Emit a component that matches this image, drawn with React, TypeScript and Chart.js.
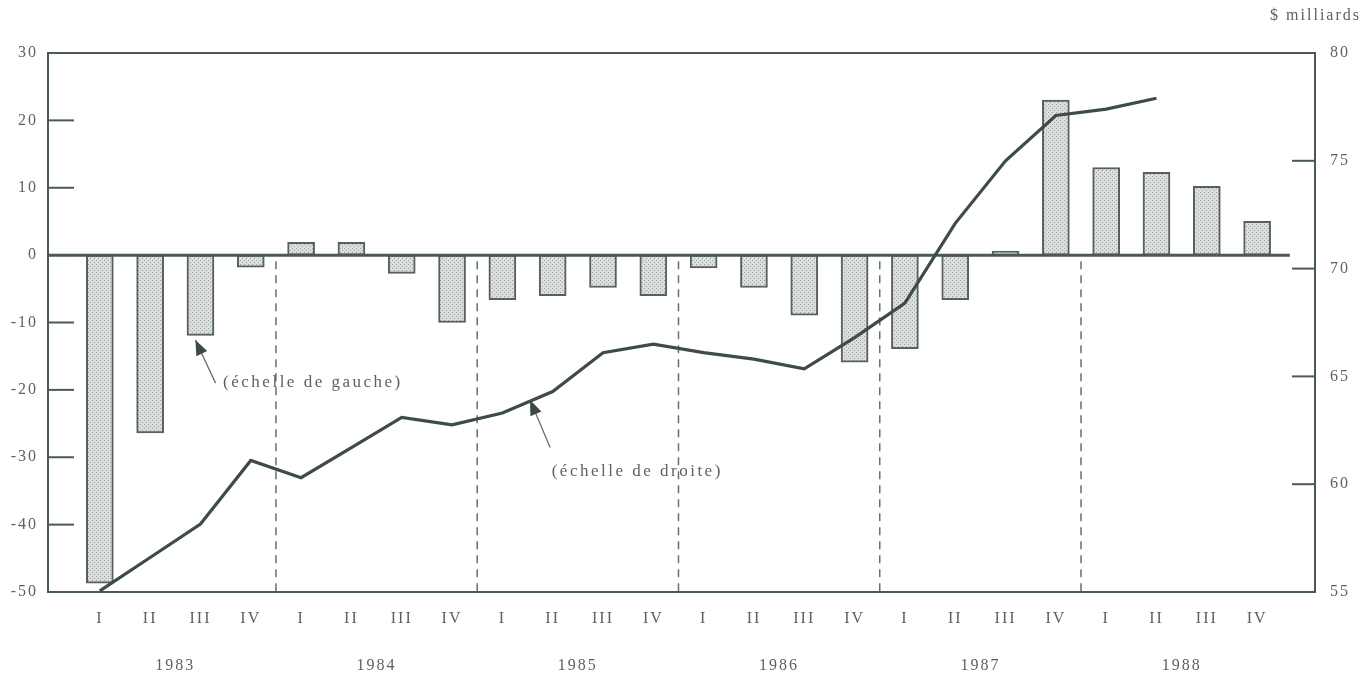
import React, { useEffect, useRef } from 'react';
import { Chart, registerables } from 'chart.js';

Chart.register(...registerables);

const years = ['1983', '1984', '1985', '1986', '1987', '1988'];
const quarters = ['I', 'II', 'III', 'IV'];
// Balance (left scale)
const balance = [
  -48.7, -26.4, -11.9, -1.8,
  1.9, 1.9, -2.7, -10.0,
  -6.6, -6.0, -4.8, -6.0,
  -1.9, -4.8, -8.9, -15.9,
  -13.9, -6.6, 0.6, 23.0,
  13.0, 12.3, 10.2, 5.0,
];
// Right scale series ($ milliards)
const reserves: (number | null)[] = [
  55.05, 56.6, 58.15, 61.1,
  60.3, 61.7, 63.1, 62.75,
  63.3, 64.3, 66.1, 66.5,
  66.1, 65.8, 65.35, 66.8,
  68.4, 72.1, 75.0, 77.1,
  77.4, 77.9, null, null,
];
const leftTicks = [-50, -40, -30, -20, -10, 0, 10, 20, 30];
const rightTicks = [55, 60, 65, 70, 75, 80];
const rightUnit = '$ milliards';
const noteLeft = '(échelle de gauche)';
const noteRight = '(échelle de droite)';

const INK = '#4a5a52';
const TEXT = '#5e625f';
const FONT = '"Liberation Serif", "DejaVu Serif", serif';

function makePattern(): CanvasPattern | string {
  const c = document.createElement('canvas');
  c.width = 4;
  c.height = 4;
  const g = c.getContext('2d');
  if (!g) return '#d4d6d3';
  g.fillStyle = '#dcdedb';
  g.fillRect(0, 0, 4, 4);
  g.fillStyle = '#9ba19c';
  g.fillRect(0, 0, 1, 1);
  g.fillRect(2, 2, 1, 1);
  const p = g.createPattern(c, 'repeat');
  return p || '#d4d6d3';
}

const framePlugin = {
  id: 'frame',
  beforeDraw(chart: any) {
    (chart.ctx as any).letterSpacing = '2px';
  },
  beforeDatasetsDraw(chart: any) {
    const { ctx, chartArea: a, scales } = chart;
    const x = scales.x;
    const y = scales.y;
    const y0 = y.getPixelForValue(0);
    ctx.save();
    // dashed year separators
    ctx.strokeStyle = '#6a6f6b';
    ctx.lineWidth = 1.5;
    ctx.setLineDash([8, 6]);
    for (let k = 1; k < years.length; k++) {
      const px = x.getPixelForValue(k * 4 - 0.5);
      ctx.beginPath();
      ctx.moveTo(px, y0 + 6);
      ctx.lineTo(px, a.bottom);
      ctx.stroke();
    }
    ctx.setLineDash([]);
    // frame
    ctx.strokeStyle = INK;
    ctx.lineWidth = 2;
    ctx.strokeRect(a.left, a.top, a.right - a.left, a.bottom - a.top);
    // inward ticks left
    leftTicks.forEach((v) => {
      const py = y.getPixelForValue(v);
      ctx.beginPath();
      ctx.moveTo(a.left, py);
      ctx.lineTo(a.left + 26, py);
      ctx.stroke();
    });
    const y2 = scales.y2;
    rightTicks.forEach((v) => {
      const py = y2.getPixelForValue(v);
      ctx.beginPath();
      ctx.moveTo(a.right, py);
      ctx.lineTo(a.right - 23, py);
      ctx.stroke();
    });
    ctx.restore();
  },
  afterDatasetDraw(chart: any, args: any) {
    if (args.index !== 0) return;
    const { ctx, chartArea: a, scales } = chart;
    const y0 = scales.y.getPixelForValue(0);
    const xEnd = scales.x.getPixelForValue(balance.length - 1 + 0.65);
    ctx.save();
    ctx.strokeStyle = INK;
    ctx.lineWidth = 3;
    ctx.beginPath();
    ctx.moveTo(a.left, y0);
    ctx.lineTo(xEnd, y0);
    ctx.stroke();
    ctx.restore();
  },
  afterDraw(chart: any) {
    const { ctx, scales } = chart;
    const x = scales.x;
    const y = scales.y;
    const y2 = scales.y2;
    ctx.save();
    ctx.fillStyle = TEXT;
    ctx.font = `16px ${FONT}`;
    (ctx as any).letterSpacing = '2px';
    ctx.textBaseline = 'middle';
    // unit label
    ctx.textAlign = 'right';
    ctx.fillText(rightUnit, chart.width - 10, 16);
    ctx.textAlign = 'left';

    const arrow = (fx: number, fy: number, tx: number, ty: number) => {
      ctx.strokeStyle = '#6a6f6b';
      ctx.lineWidth = 1.3;
      ctx.beginPath();
      ctx.moveTo(fx, fy);
      ctx.lineTo(tx, ty);
      ctx.stroke();
      const ang = Math.atan2(ty - fy, tx - fx);
      const L = 15;
      const W = 6;
      ctx.fillStyle = '#3c4a43';
      ctx.beginPath();
      ctx.moveTo(tx, ty);
      ctx.lineTo(tx - L * Math.cos(ang) + W * Math.sin(ang), ty - L * Math.sin(ang) - W * Math.cos(ang));
      ctx.lineTo(tx - L * Math.cos(ang) - W * Math.sin(ang), ty - L * Math.sin(ang) + W * Math.cos(ang));
      ctx.closePath();
      ctx.fill();
    };

    ctx.font = `17px ${FONT}`;
    (ctx as any).letterSpacing = '2.5px';
    // left note
    arrow(x.getPixelForValue(2.3), y.getPixelForValue(-19), x.getPixelForValue(1.9), y.getPixelForValue(-12.6));
    ctx.fillStyle = TEXT;
    ctx.fillText(noteLeft, x.getPixelForValue(2.45), y.getPixelForValue(-18.9));

    // right note
    arrow(x.getPixelForValue(8.95), y2.getPixelForValue(61.7), x.getPixelForValue(8.55), y2.getPixelForValue(63.9));
    ctx.fillStyle = TEXT;
    ctx.fillText(noteRight, x.getPixelForValue(8.98), y2.getPixelForValue(60.6));
    ctx.restore();
  },
};

export default function App() {
  const ref = useRef<HTMLCanvasElement | null>(null);

  useEffect(() => {
    if (!ref.current) return;
    const pattern = makePattern();
    const tickFont = { family: FONT, size: 16 };
    const chart = new Chart(ref.current, {
      type: 'bar',
      data: {
        datasets: [
          {
            type: 'bar',
            label: 'balance',
            data: balance.map((v, i) => ({ x: i, y: v })),
            backgroundColor: pattern as any,
            borderColor: '#55615a',
            borderWidth: 2,
            borderSkipped: false,
            barThickness: 27,
            yAxisID: 'y',
            xAxisID: 'x',
            order: 1,
          },
          {
            type: 'line',
            label: 'reserves',
            data: reserves.map((v, i) => ({ x: i, y: v })) as any,
            borderColor: '#3d4c44',
            borderWidth: 3.2,
            pointRadius: 0,
            tension: 0,
            spanGaps: false,
            fill: false,
            yAxisID: 'y2',
            xAxisID: 'x',
            order: 0,
          },
        ],
      },
      options: {
        responsive: false,
        animation: false,
        layout: { padding: { top: 53, left: 0, right: 0, bottom: 0 } },
        plugins: {
          legend: { display: false },
          tooltip: { enabled: false },
        },
        scales: {
          x: {
            type: 'linear',
            position: 'bottom',
            offset: false,
            weight: 0,
            min: -1.03,
            max: 24.15,
            grid: { display: false, drawTicks: false, offset: false },
            border: { display: false },
            afterBuildTicks: (s: any) => {
              s.ticks = balance.map((_, i) => ({ value: i }));
            },
            afterFit: (s: any) => {
              s.height = 45;
            },
            ticks: {
              autoSkip: false,
              maxRotation: 0,
              padding: 17,
              color: TEXT,
              font: tickFont,
              callback: (v: any) => quarters[Math.round(Number(v)) % 4],
            },
          },
          x2: {
            type: 'linear',
            position: 'bottom',
            offset: false,
            weight: 1,
            min: -1.03,
            max: 24.15,
            grid: { display: false, drawTicks: false, offset: false },
            border: { display: false },
            afterBuildTicks: (s: any) => {
              s.ticks = years.map((_, k) => ({ value: k * 4 + 1.5 }));
            },
            afterFit: (s: any) => {
              s.height = 40;
            },
            ticks: {
              autoSkip: false,
              maxRotation: 0,
              padding: 19,
              color: TEXT,
              font: tickFont,
              callback: (_v: any, i: number) => years[i],
            },
          },
          y: {
            type: 'linear',
            position: 'left',
            min: -50,
            max: 30,
            grid: { display: false, drawTicks: false },
            border: { display: false },
            afterBuildTicks: (s: any) => {
              s.ticks = leftTicks.map((v) => ({ value: v }));
            },
            afterFit: (s: any) => {
              s.width = 48;
            },
            ticks: {
              padding: 10,
              color: TEXT,
              font: tickFont,
              callback: (v: any) => String(v),
            },
          },
          y2: {
            type: 'linear',
            position: 'right',
            min: 55,
            max: 80,
            grid: { display: false, drawTicks: false },
            border: { display: false },
            afterBuildTicks: (s: any) => {
              s.ticks = rightTicks.map((v) => ({ value: v }));
            },
            afterFit: (s: any) => {
              s.width = 56;
            },
            ticks: {
              padding: 15,
              color: TEXT,
              font: tickFont,
              callback: (v: any) => String(v),
            },
          },
        },
      },
      plugins: [framePlugin],
    });
    return () => chart.destroy();
  }, []);

  return (
    <div style={{ position: 'fixed', left: 0, top: 0, width: 1371, height: 677, background: '#ffffff' }}>
      <canvas ref={ref} width={1371} height={677} style={{ display: 'block', width: 1371, height: 677 }} />
    </div>
  );
}
